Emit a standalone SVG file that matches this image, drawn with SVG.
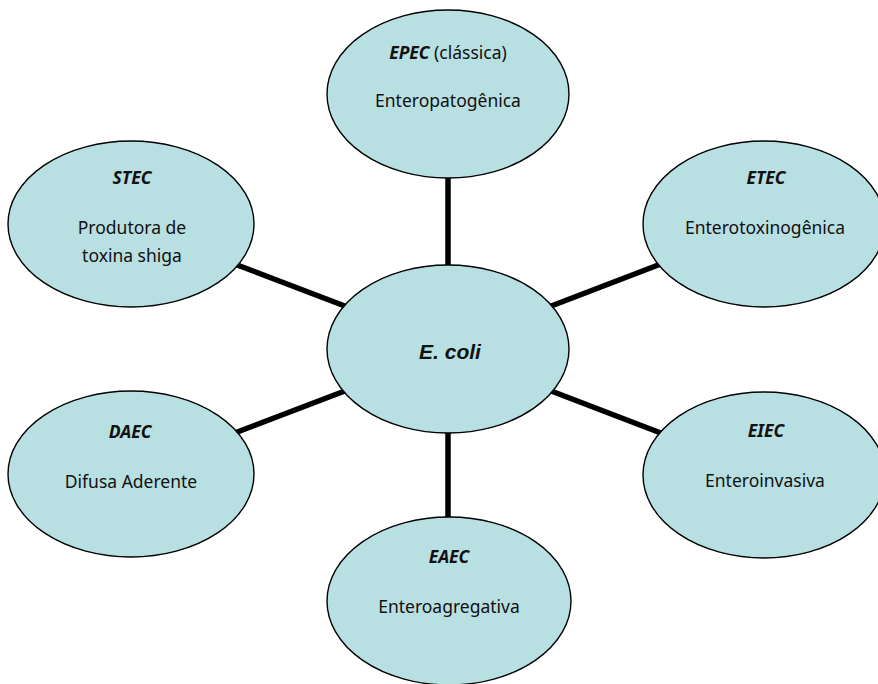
<svg xmlns="http://www.w3.org/2000/svg" width="878" height="684" viewBox="0 0 878 684">
  <style>
    .node ellipse { fill: #B8DFE2; stroke: #000; stroke-width: 1.4; }
    .t { font-family: "Noto Sans", "Open Sans", sans-serif; font-size: 17.5px; fill: #111; text-anchor: middle; }
    .b { font-weight: bold; font-style: italic; }
    .center { font-family: "Liberation Sans", Arial, sans-serif; font-size: 21px; font-weight: bold; font-style: italic; fill: #111; text-anchor: middle; }
    #connectors line { stroke: #000; stroke-width: 5.5; }
  </style>
  <rect width="878" height="684" fill="#fff"/>
  <g id="connectors">
    <line x1="448" y1="170" x2="448" y2="272"/>
    <line x1="448" y1="425" x2="448" y2="525"/>
    <line x1="232" y1="263" x2="350" y2="308"/>
    <line x1="546" y1="308" x2="666" y2="262"/>
    <line x1="232" y1="434" x2="350" y2="389"/>
    <line x1="546" y1="389" x2="666" y2="435"/>
  </g>
  <g id="ecoli" class="node">
    <ellipse cx="448" cy="349" rx="121" ry="84"/>
    <text class="center" x="450" y="359">E. coli</text>
  </g>
  <g id="epec" class="node">
    <ellipse cx="448" cy="94" rx="121" ry="84"/>
    <text class="t" x="448" y="59"><tspan class="b">EPEC</tspan> (clássica)</text>
    <text class="t" x="448" y="107">Enteropatogênica</text>
  </g>
  <g id="etec" class="node">
    <ellipse cx="764" cy="224" rx="121" ry="83"/>
    <text class="t b" x="766" y="184">ETEC</text>
    <text class="t" x="765" y="234">Enterotoxinogênica</text>
  </g>
  <g id="stec" class="node">
    <ellipse cx="131" cy="224" rx="123" ry="83"/>
    <text class="t b" x="132" y="184">STEC</text>
    <text class="t" x="132" y="234">Produtora de</text>
    <text class="t" x="132" y="262">toxina shiga</text>
  </g>
  <g id="daec" class="node">
    <ellipse cx="131" cy="474" rx="123" ry="83"/>
    <text class="t b" x="130" y="438">DAEC</text>
    <text class="t" x="131" y="488">Difusa Aderente</text>
  </g>
  <g id="eiec" class="node">
    <ellipse cx="764" cy="475" rx="121" ry="83"/>
    <text class="t b" x="766" y="437">EIEC</text>
    <text class="t" x="765" y="487">Enteroinvasiva</text>
  </g>
  <g id="eaec" class="node">
    <ellipse cx="449" cy="601" rx="122" ry="84"/>
    <text class="t b" x="449" y="563">EAEC</text>
    <text class="t" x="449" y="613">Enteroagregativa</text>
  </g>
</svg>
